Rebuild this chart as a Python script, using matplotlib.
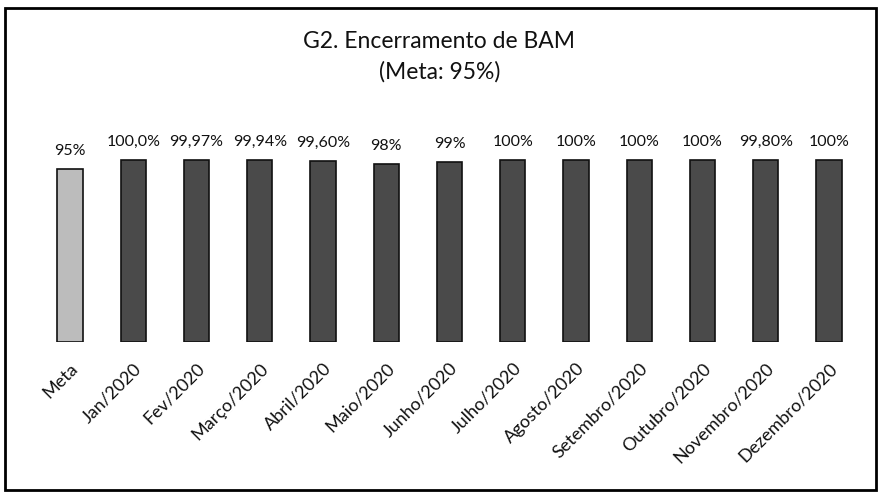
#!/usr/bin/env python3

import matplotlib
matplotlib.use("Agg")
import matplotlib.pyplot as plt
from matplotlib.patches import Rectangle

# data
categories = ["Meta", "Jan/2020", "Fev/2020", "Março/2020", "Abril/2020", "Maio/2020",
              "Junho/2020", "Julho/2020", "Agosto/2020", "Setembro/2020",
              "Outubro/2020", "Novembro/2020", "Dezembro/2020"]
values = [95, 100.0, 99.97, 99.94, 99.60, 98, 99, 100, 100, 100, 100, 99.80, 100]
value_labels = ["95%", "100,0%", "99,97%", "99,94%", "99,60%", "98%", "99%",
                "100%", "100%", "100%", "100%", "99,80%", "100%"]

plt.rcParams['font.family'] = ['Lato', 'DejaVu Sans']

W, H = 879, 497
fig = plt.figure(figsize=(W / 100, H / 100), dpi=100)

# axes placed so the bars sit where they are in the scan
ax = fig.add_axes([38.4 / W, (H - 342) / H, 822.2 / W, 0.366 * 1.2])

colors = ['#bcbcbc'] + ['#4a4a4a'] * (len(values) - 1)
x = list(range(len(values)))
bars = ax.bar(x, values, 0.4, color=colors, edgecolor='#111111', linewidth=1.2)

for xi, v, lab in zip(x, values, value_labels):
    ax.annotate(lab, (xi, v), xytext=(0, 8), textcoords='offset points',
                ha='center', va='bottom', fontsize=11.5, color='#111111')

ax.set_xlim(-0.5, len(values) - 0.5)
ax.set_ylim(0, 120)
ax.set_xticks(x)
ax.set_xticklabels(categories, rotation=45, ha='right', rotation_mode='anchor',
                   fontsize=13, color='#111111')
ax.tick_params(axis='x', length=0, pad=13)
ax.set_yticks([])
for s in ax.spines.values():
    s.set_visible(False)

fig.text(0.5, 1 - 42 / H, "G2. Encerramento de BAM", ha='center', va='center',
         fontsize=16.5, color='#111111')
fig.text(0.5, 1 - 72 / H, "(Meta: 95%)", ha='center', va='center',
         fontsize=16.5, color='#111111')

# outer frame
fig.patches.append(Rectangle((5 / W, 1 - 490 / H), 871 / W, 482 / H,
                             transform=fig.transFigure, fill=False,
                             edgecolor='black', linewidth=2))

fig.savefig("out.png", dpi=100)
